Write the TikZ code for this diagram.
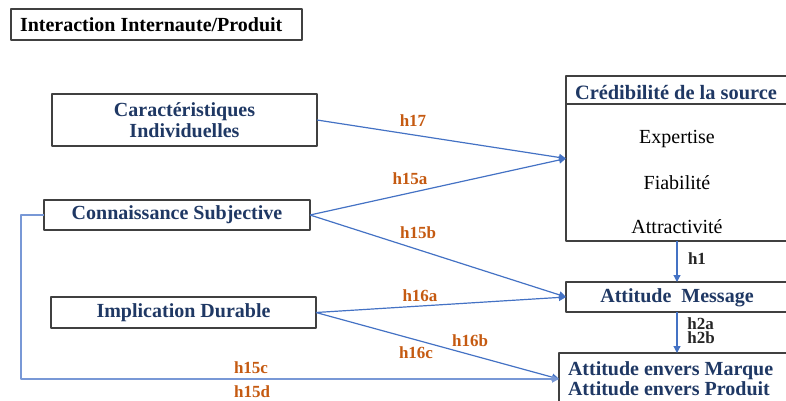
\documentclass[tikz,border=0pt]{standalone}
\usepackage{fontspec}
\setmainfont{Liberation Serif}
\usetikzlibrary{arrows.meta}
\definecolor{navy}{RGB}{31,56,100}
\definecolor{hlab}{RGB}{197,90,17}
\definecolor{lien}{RGB}{68,114,196}
\definecolor{lienclair}{RGB}{120,152,214}
\definecolor{cadre}{RGB}{64,64,64}
\begin{document}
\begin{tikzpicture}[x=0.5pt,y=-0.5pt,line join=round,>={Triangle[length=3.5pt,width=3.5pt]}]
	\tikzset{boite/.style={draw=cadre,line width=0.75pt,inner sep=0pt,outer sep=0pt},
		var/.style={boite,text=navy,font=\bfseries\fontsize{10}{10.5}\selectfont,align=center},
		hyp/.style={text=hlab,font=\bfseries\fontsize{8.5}{7}\selectfont,inner sep=0pt},
		hypn/.style={hyp,text=black!85},
		fleche/.style={->,draw=lien,line width=0.6pt}}
	\path[use as bounding box,clip] (0,0) rectangle (786,401);
	\node[boite,font=\bfseries\fontsize{10}{12}\selectfont,text width=136.5pt,inner xsep=4.5pt,align=flush left,minimum height=15.5pt] (titre) at (156.5,24.5) {Interaction Internaute/Produit};
	% variables a gauche
	\node[var,minimum width=132.5pt,minimum height=26pt] (caract) at (184.5,120) {Caractéristiques\\Individuelles};
	\node[var,minimum width=133pt,minimum height=15pt] (connais) at (177,215) {Connaissance Subjective};
	\node[var,minimum width=132.5pt,minimum height=15.5pt] (implic) at (183.5,312.5) {Implication Durable};
	% variables a droite
	\node[boite,minimum width=111pt,minimum height=82.5pt] (cred) at (677,158.5) {};
	\draw[cadre,line width=0.75pt] (cred.west |- 0,104) -- (cred.east |- 0,104);
	\node[text=navy,font=\bfseries\fontsize{10.2}{12}\selectfont] (credtete) at (676,93) {Crédibilité de la source};
	\node[font=\fontsize{10}{12}\selectfont] (expertise) at (677,139) {Expertise};
	\node[font=\fontsize{10}{12}\selectfont] (fiab) at (677,183) {Fiabilité};
	\node[font=\fontsize{10}{12}\selectfont] (attract) at (677,227) {Attractivité};
	\node[var,minimum width=111pt,minimum height=15pt,text height=8pt] (attmsg) at (677,297) {Attitude\ \ Message};
	\node[var,align=flush left,font=\bfseries\fontsize{10}{10}\selectfont,text width=109pt,inner xsep=4.5pt,minimum height=26pt] (attenv) at (677,379) {Attitude envers Marque\\Attitude envers Produit};
	% liens
	\draw[fleche] (caract.east) -- (cred.west);
	\draw[fleche] (connais.east) -- (cred.west);
	\draw[fleche] (connais.east) -- (attmsg.west);
	\draw[fleche] (implic.east) -- (attmsg.west);
	\draw[fleche] (implic.east) -- (attenv.west);
	\draw[fleche,draw=lienclair,line width=0.9pt] (connais.west) -- ++(-23,0) |- (attenv.west);
	\draw[fleche] (cred.south) -- (attmsg.north);
	\draw[fleche] (attmsg.south) -- (attenv.north);
	% hypotheses
	\node[hyp] (h17) at (413,121) {h17};
	\node[hyp] (h15a) at (410,179) {h15a};
	\node[hyp] (h15b) at (418,233) {h15b};
	\node[hyp] (h16a) at (420,296) {h16a};
	\node[hyp] (h16b) at (470,341) {h16b};
	\node[hyp] (h16c) at (416,353) {h16c};
	\node[hyp] (h15c) at (251,368) {h15c};
	\node[hyp] (h15d) at (252,392) {h15d};
	\node[hypn] (h1) at (697,259) {h1};
	\node[hypn,align=left] (h2) at (701,331) {h2a\\h2b};
\end{tikzpicture}
\end{document}
